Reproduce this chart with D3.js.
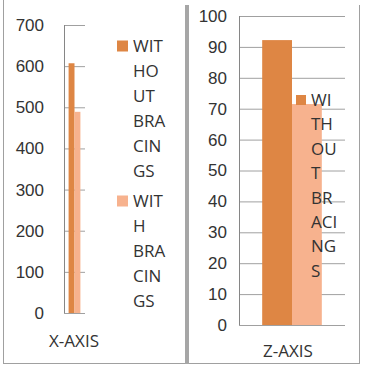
<!DOCTYPE html>
<html>
<head>
<meta charset="utf-8">
<script src="https://cdn.jsdelivr.net/npm/d3@7"></script>
<style>
	body { margin: 0; background: #fff; }
	svg { display: block; font-family: "Open Sans", sans-serif; }
	.tick text { font-size: 17px; fill: #333; }
	.tick line { stroke: #a0a0a0; }
</style>
</head>
<body>
<div id="chart"></div>
<script>
var seriesNames = ["WITHOUT BRACINGS", "WITH BRACINGS"];
var seriesColors = ["#de8644", "#f7b28e"];

var xAxisValues = [607, 489];
var xTicks = [0, 100, 200, 300, 400, 500, 600, 700];
var xLegendLines = [["WIT", "HO", "UT", "BRA", "CIN", "GS"], ["WIT", "H", "BRA", "CIN", "GS"]];

var zAxisValues = [92.2, 71.5];
var zTicks = [0, 10, 20, 30, 40, 50, 60, 70, 80, 90, 100];
var zLegendLines = [["WI", "TH", "OU", "T", "BR", "ACI", "NG", "S"]];

var width = 369, height = 369;
var svg = d3.select("#chart")
	.append("svg")
	.attr("width", width)
	.attr("height", height);

// frames
var frame = svg.append("g").attr("stroke", "#a0a0a0").attr("fill", "none");
frame.append("line").attr("x1", 3.5).attr("x2", 3.5).attr("y1", 0).attr("y2", 364);
frame.append("line").attr("x1", 3).attr("x2", 359.5).attr("y1", 363.5).attr("y2", 363.5);
frame.append("line").attr("x1", 359.5).attr("x2", 359.5).attr("y1", 5).attr("y2", 364);
frame.append("line").attr("x1", 187).attr("x2", 187).attr("y1", 5).attr("y2", 364)
	.attr("stroke-width", 4).attr("stroke", "#a6a6a6");

function drawPanel(opt) {
	var g = svg.append("g");

	var y = d3.scaleLinear()
		.domain(opt.domain)
		.range([opt.bottom, opt.top]);

	var x0 = d3.scaleBand()
		.domain([opt.category])
		.range([opt.left, opt.right])
		.padding(0.28);

	var x1 = d3.scaleBand()
		.domain(seriesNames)
		.range([0, x0.bandwidth()]);

	var axis = d3.axisLeft(y)
		.tickValues(opt.ticks)
		.tickSize(-(opt.right - opt.left))
		.tickPadding(opt.pad);

	g.append("g")
		.attr("transform", "translate(" + opt.left + ",0)")
		.call(axis)
		.call(function(a) { a.select(".domain").remove(); });

	g.selectAll("rect.bar")
		.data(opt.values)
		.enter()
		.append("rect")
		.attr("class", "bar")
		.attr("x", function(d, i) { return x0(opt.category) + x1(seriesNames[i]); })
		.attr("width", x1.bandwidth())
		.attr("y", function(d) { return y(d); })
		.attr("height", function(d) { return y(0) - y(d); })
		.attr("fill", function(d, i) { return seriesColors[i]; });

	// vertical axis line
	g.append("line")
		.attr("x1", opt.left + 0.5).attr("x2", opt.left + 0.5)
		.attr("y1", y(opt.domain[1])).attr("y2", y(0))
		.attr("stroke", "#868686");

	g.append("text")
		.attr("x", opt.labelX)
		.attr("y", opt.labelY)
		.attr("text-anchor", "middle")
		.attr("dy", "0.35em")
		.attr("font-size", 17)
		.attr("fill", "#333")
		.text(opt.category);

	// legend
	opt.legend.forEach(function(lines, i) {
		var lg = g.append("g");
		var top = opt.legendTops[i];
		lg.append("rect")
			.attr("x", opt.legendX)
			.attr("y", top - opt.sq / 2)
			.attr("width", opt.sq)
			.attr("height", opt.sq)
			.attr("fill", seriesColors[i]);
		lg.selectAll("text")
			.data(lines)
			.enter()
			.append("text")
			.attr("x", opt.legendX + opt.sq + 5)
			.attr("y", function(d, j) { return top + j * opt.lineH; })
			.attr("dy", "0.35em")
			.attr("font-size", 17)
			.attr("fill", "#333")
			.text(function(d) { return d; });
	});
}

drawPanel({
	category: "X-AXIS",
	values: xAxisValues,
	domain: [0, 700],
	ticks: xTicks,
	left: 64, right: 85, top: 25, bottom: 313,
	pad: 20,
	labelX: 74, labelY: 341,
	legend: xLegendLines,
	legendTops: [46, 201],
	legendX: 117, sq: 11, lineH: 25
});

drawPanel({
	category: "Z-AXIS",
	values: zAxisValues,
	domain: [0, 100],
	ticks: zTicks,
	left: 239, right: 345, top: 16, bottom: 325,
	pad: 12,
	labelX: 288, labelY: 351,
	legend: zLegendLines,
	legendTops: [100],
	legendX: 296, sq: 10, lineH: 24.4
});
</script>
</body>
</html>
